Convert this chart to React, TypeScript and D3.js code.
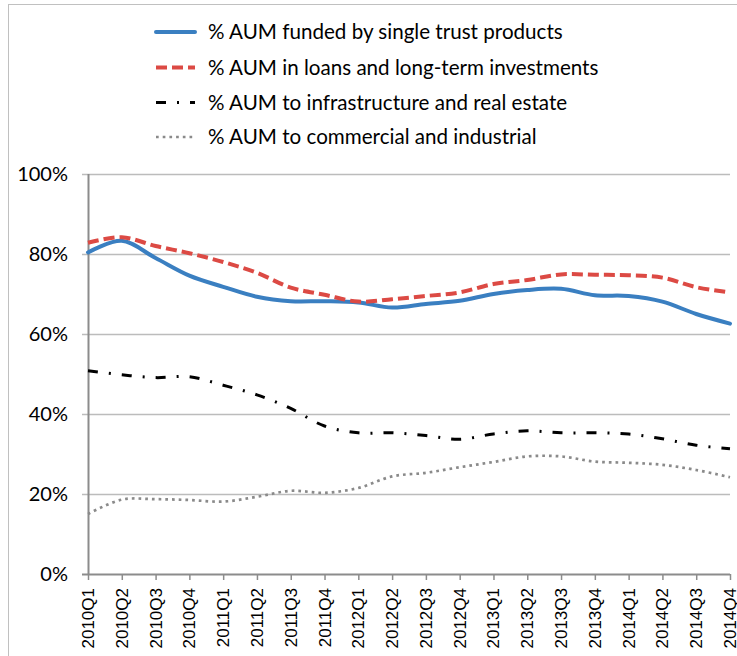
import React from "react";
import * as d3 from "d3";

const categories = [
  "2010Q1","2010Q2","2010Q3","2010Q4",
  "2011Q1","2011Q2","2011Q3","2011Q4",
  "2012Q1","2012Q2","2012Q3","2012Q4",
  "2013Q1","2013Q2","2013Q3","2013Q4",
  "2014Q1","2014Q2","2014Q3","2014Q4",
];

const singleTrust = [80.4, 83.3, 79.0, 74.6, 71.8, 69.3, 68.2, 68.2, 67.9, 66.6, 67.5, 68.3, 70.0, 71.0, 71.3, 69.7, 69.5, 68.1, 65.0, 62.6];
const loansLongTerm = [82.8, 84.2, 82.0, 80.2, 78.0, 75.3, 71.6, 69.8, 68.1, 68.7, 69.5, 70.4, 72.5, 73.5, 74.9, 74.8, 74.7, 74.1, 71.7, 70.4];
const infraRealEstate = [50.8, 49.8, 49.1, 49.3, 47.2, 44.8, 41.4, 37.0, 35.3, 35.3, 34.6, 33.7, 35.0, 35.8, 35.3, 35.3, 35.0, 33.8, 32.2, 31.3];
const commercialIndustrial = [15.0, 18.6, 18.7, 18.5, 18.1, 19.3, 20.8, 20.3, 21.5, 24.4, 25.3, 26.7, 28.0, 29.4, 29.4, 28.1, 27.8, 27.3, 26.0, 24.2];

const seriesNames = [
  "% AUM funded by single trust products",
  "% AUM in loans and long-term investments",
  "% AUM to infrastructure and real estate",
  "% AUM to commercial and industrial",
];

const yTicks = [0, 20, 40, 60, 80, 100];

const W = 737;
const H = 656;

export default function App() {
  const x = d3.scalePoint<string>().domain(categories).range([88, 730]);
  const y = d3.scaleLinear().domain([0, 100]).range([574, 174]);

  const styles = [
    { color: "#3a7fc1", width: 4, dash: "none", cap: "round" },
    { color: "#dc4a44", width: 4, dash: "11,5", cap: "butt" },
    { color: "#000000", width: 3, dash: "10,11,2,11", cap: "butt" },
    { color: "#8a8a8a", width: 2.7, dash: "2.7,4", cap: "butt" },
  ];
  const data = [singleTrust, loansLongTerm, infraRealEstate, commercialIndustrial];

  const line = d3
    .line<number>()
    .x((_, i) => x(categories[i]) as number)
    .y((d) => y(d))
    .curve(d3.curveCatmullRom.alpha(0.5));

  const font = "Lato, 'Open Sans', sans-serif";

  return (
    <svg
      width={W}
      height={H}
      style={{ position: "absolute", left: 0, top: 0, background: "#fff" }}
    >
      <rect x={0} y={0} width={W} height={H} fill="#fff" />
      {/* frame */}
      <line x1={8.5} x2={8.5} y1={4} y2={H} stroke="#c0c0c0" strokeWidth={1} />
      <line x1={8} x2={W} y1={4.5} y2={4.5} stroke="#c0c0c0" strokeWidth={1} />

      {/* gridlines */}
      {yTicks.map((t) => (
        <line
          key={"g" + t}
          x1={82}
          x2={730}
          y1={Math.round(y(t)) + 0.5}
          y2={Math.round(y(t)) + 0.5}
          stroke={t === 0 ? "#8c8c8c" : "#bcbcbc"}
          strokeWidth={t === 0 ? 2 : 1.5}
        />
      ))}
      {/* y axis */}
      <line x1={88.5} x2={88.5} y1={174} y2={575} stroke="#8c8c8c" strokeWidth={2} />
      {/* x ticks */}
      {categories.map((c) => (
        <line
          key={"t" + c}
          x1={(x(c) as number) + 0.5}
          x2={(x(c) as number) + 0.5}
          y1={574}
          y2={580}
          stroke="#8c8c8c"
          strokeWidth={1.5}
        />
      ))}
      {/* y tick labels */}
      {yTicks.map((t) => (
        <text
          key={"yl" + t}
          x={68}
          y={y(t)}
          dy="0.35em"
          textAnchor="end"
          fontFamily={font}
          fontSize={20}
          fill="#000"
        >
          {t + "%"}
        </text>
      ))}
      {/* x labels */}
      {categories.map((c) => (
        <text
          key={"xl" + c}
          transform={`translate(${(x(c) as number) + 6},588) rotate(-90)`}
          textAnchor="end"
          fontFamily="'Liberation Sans', Arial, sans-serif"
          fontSize={17}
          fill="#000"
        >
          {c}
        </text>
      ))}

      {/* series */}
      {data.map((d, i) => (
        <path
          key={"s" + i}
          d={line(d) || ""}
          fill="none"
          stroke={styles[i].color}
          strokeWidth={styles[i].width}
          strokeDasharray={styles[i].dash}
          strokeLinecap={styles[i].cap as any}
          strokeLinejoin="round"
        />
      ))}

      {/* legend */}
      {seriesNames.map((name, i) => {
        const ly = [32, 67.5, 102.5, 137][i];
        return (
          <g key={"lg" + i}>
            <line
              x1={156}
              x2={195}
              y1={ly}
              y2={ly}
              stroke={styles[i].color}
              strokeWidth={styles[i].width}
              strokeDasharray={styles[i].dash}
              strokeLinecap={styles[i].cap as any}
            />
            <text
              x={208}
              y={ly}
              dy="0.35em"
              fontFamily={font}
              fontSize={20.6}
              fill="#000"
            >
              {name}
            </text>
          </g>
        );
      })}
    </svg>
  );
}
